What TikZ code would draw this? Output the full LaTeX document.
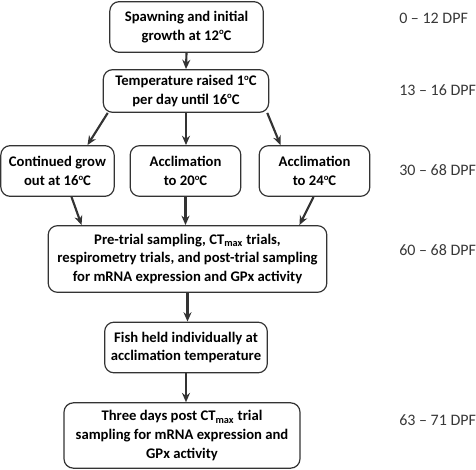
\documentclass[tikz,border=0pt]{standalone}
\usepackage{fontspec}
\setmainfont{Carlito}
\usepackage{xcolor}
\usetikzlibrary{arrows.meta,positioning,calc}
\definecolor{linegray}{HTML}{333333}
\definecolor{textgray}{HTML}{383838}
\newcommand{\degsup}{\raisebox{0.75ex}{\fontsize{6.5}{6.5}\selectfont o}}

\begin{document}
\begin{tikzpicture}[
    x=0.75pt, y=-0.75pt,
    stagebox/.style={rectangle, draw=linegray, line width=0.9pt, rounded corners=7pt, align=center, font=\fontsize{11}{14}\selectfont\bfseries, inner sep=0pt},
    daylabel/.style={anchor=west, font=\fontsize{12}{14}\selectfont, text=textgray, inner sep=0pt},
    arrow/.style={-{Stealth[length=7pt,width=6pt]}, line width=1.6pt, draw=linegray}
]
\useasboundingbox (0,0) rectangle (476,470);

% Stages
\node[stagebox, minimum width=115pt, minimum height=38pt] (spawn) at (186.5,27) {Spawning and initial\\growth at 12\degsup C};
\node[stagebox, minimum width=124pt, minimum height=32pt] (raise) at (186,91) {Temperature raised 1\degsup C\\per day until 16\degsup C};
\node[stagebox, minimum width=85pt, minimum height=38pt] (grow) at (57.5,171) {Continued grow\\out at 16\degsup C};
\node[stagebox, minimum width=83pt, minimum height=38pt] (accA) at (185.5,171) {Acclimation\\to 20\degsup C};
\node[stagebox, minimum width=83pt, minimum height=38pt] (accB) at (314.5,171) {Acclimation\\to 24\degsup C};
\node[stagebox, minimum width=209pt, minimum height=50pt] (trial) at (187.5,259) {Pre-trial sampling, CT\textsubscript{max} trials,\\respirometry trials, and post-trial sampling\\for mRNA expression and GPx activity};
\node[stagebox, minimum width=122pt, minimum height=38pt] (held) at (186,347.5) {Fish held individually at\\acclimation temperature};
\node[stagebox, minimum width=177pt, minimum height=49pt] (post) at (182,435.5) {Three days post CT\textsubscript{max} trial\\sampling for mRNA expression and\\GPx activity};

% Days post fertilisation
\node[daylabel] (d1) at (399,18) {0 -- 12 DPF};
\node[daylabel] (d2) at (399,90) {13 -- 16 DPF};
\node[daylabel] (d3) at (399,170) {30 -- 68 DPF};
\node[daylabel] (d4) at (399,250) {60 -- 68 DPF};
\node[daylabel] (d5) at (399,420) {63 -- 71 DPF};

% Arrows
\draw[arrow] (spawn.south) -- (raise.north);
\draw[arrow] ($(raise.south west)+(5,0)$) -- ($(grow.north)+(30,0)$);
\draw[arrow] (raise.south) -- (raise.south |- accA.north);
\draw[arrow] ($(raise.south east)+(-2,0)$) -- ($(accB.north)+(-34,0)$);
\draw[arrow] ($(grow.south)+(14,0)$) -- ($(trial.north west)+(34,0)$);
\draw[arrow] (accA.south) -- (accA.south |- trial.north);
\draw[arrow] ($(accB.south)+(-1,0)$) -- ($(trial.north east)+(-28,0)$);
\draw[arrow] (trial.south) -- (trial.south |- held.north);
\draw[arrow] (held.south) -- (held.south |- post.north);

\end{tikzpicture}
\end{document}
